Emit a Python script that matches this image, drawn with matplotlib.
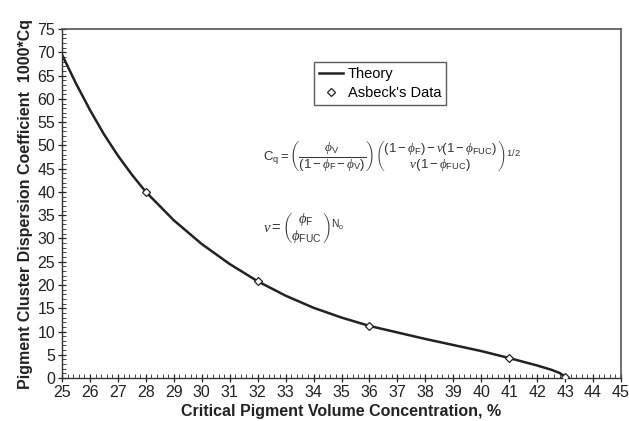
import numpy as np
import matplotlib.pyplot as plt
from matplotlib.ticker import MultipleLocator

# theory curve
cpvc_curve = [25, 25.5, 26, 26.5, 27, 27.5, 28, 29, 30, 31, 32, 33, 34, 35, 36,
              37, 38, 39, 40, 41, 42, 42.5, 42.8, 43]
cq_curve = [69.5, 63.3, 57.6, 52.4, 47.8, 43.7, 40.0, 33.9, 28.8, 24.5, 20.8,
            17.7, 15.1, 13.0, 11.2, 9.8, 8.4, 7.1, 5.8, 4.3, 2.7, 1.8, 1.1, 0.3]

# Asbeck's data
cpvc_data = [28, 32, 36, 41, 43]
cq_data = [40.0, 20.8, 11.2, 4.3, 0.3]

plt.rcParams['font.family'] = ['Liberation Sans', 'DejaVu Sans']
plt.rcParams['mathtext.fontset'] = 'custom'
plt.rcParams['mathtext.rm'] = 'Liberation Sans'
plt.rcParams['mathtext.it'] = 'Liberation Serif:italic'

fig = plt.figure(figsize=(6.29, 4.21), dpi=100)
ax = fig.add_axes([0.0986, 0.102, 0.8887, 0.829])

ax.plot(cpvc_curve, cq_curve, color='#222222', lw=1.8, label='Theory', zorder=2)
ax.plot(cpvc_data, cq_data, ls='none', marker='D', ms=4.5, mfc='white',
        mec='#222222', mew=0.9, label="Asbeck's Data", zorder=3)

ax.set_xlim(25, 45)
ax.set_ylim(0, 75)
ax.xaxis.set_major_locator(MultipleLocator(1))
ax.xaxis.set_minor_locator(MultipleLocator(0.2))
ax.yaxis.set_major_locator(MultipleLocator(5))
ax.yaxis.set_minor_locator(MultipleLocator(1))
ax.tick_params(which='major', direction='inout', length=6, width=0.9,
               labelsize=11.5, colors='#222222', pad=2)
ax.tick_params(which='minor', direction='in', length=3, width=0.7, colors='#444444')
for side in ['top', 'right']:
    ax.spines[side].set_color('#555555')
    ax.spines[side].set_linewidth(1.2)
for side in ['left', 'bottom']:
    ax.spines[side].set_color('#333333')
    ax.spines[side].set_linewidth(1.0)

ax.set_xlabel('Critical Pigment Volume Concentration, %', fontsize=11.5,
              fontweight='bold', color='#222222', labelpad=3)
ax.set_ylabel('Pigment Cluster Dispersion Coefficient  1000*Cq', fontsize=11.5,
              fontweight='bold', color='#222222', labelpad=3)

leg = ax.legend(loc='upper left', bbox_to_anchor=(0.45, 0.905), fontsize=10.5,
                frameon=True, fancybox=False, edgecolor='#333333',
                handlelength=1.7, handletextpad=0.3, borderpad=0.35,
                labelspacing=0.3, borderaxespad=0)
leg.get_frame().set_linewidth(1.0)

eq1 = (r'$\mathrm{C_q} = \left(\dfrac{\phi_\mathrm{V}}{(1-\phi_\mathrm{F}-\phi_\mathrm{V})}\right)'
       r'\left(\genfrac{}{}{0}{0}{(1-\phi_\mathrm{F})-\nu(1-\phi_\mathrm{FUC})}'
       r'{\nu(1-\phi_\mathrm{FUC})}\right)^{1/2}$')
eq2 = r'$\nu = \left(\genfrac{}{}{0}{0}{\phi_\mathrm{F}}{\phi_\mathrm{FUC}}\right)^{\mathrm{N_o}}$'
ax.text(0.36, 0.635, eq1, transform=ax.transAxes, fontsize=9.5, color='#333333',
        va='center', ha='left')
ax.text(0.36, 0.43, eq2, transform=ax.transAxes, fontsize=10.5, color='#333333',
        va='center', ha='left')

fig.savefig('out.png', dpi=100)
